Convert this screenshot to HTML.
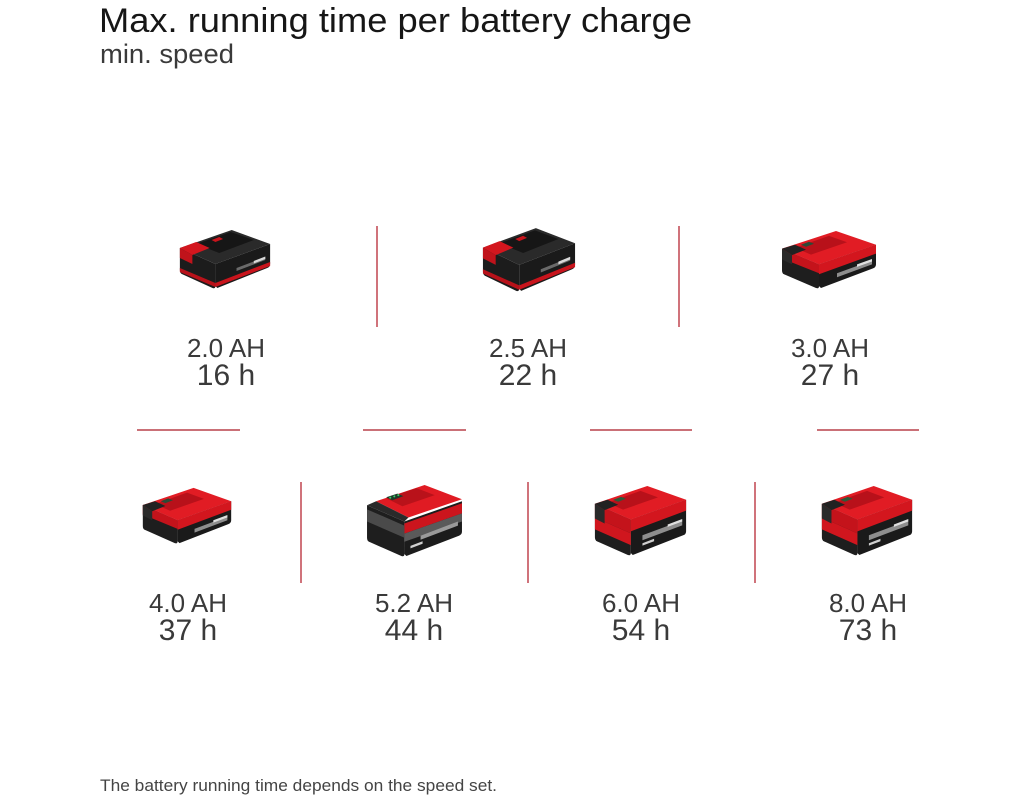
<!DOCTYPE html>
<html>
<head>
<meta charset="utf-8">
<style>
  html,body{margin:0;padding:0;background:#fff;}
  body{width:1024px;height:800px;overflow:hidden;}
  svg{display:block;}
  text{font-family:"Liberation Sans", Arial, sans-serif;}
</style>
</head>
<body>
<svg width="1024" height="800" viewBox="0 0 1024 800" xmlns="http://www.w3.org/2000/svg">
  <defs>
    <symbol id="R" viewBox="0 0 100 62" preserveAspectRatio="none">
      <path d="M3,20 L40,36 L40,58 Q40,61 37,60 L5,46 Q3,45 3,42 Z" fill="#1e1e1e"/>
      <path d="M40,36 L97,16 L97,36 Q97,39 94,40 L42,60 L40,58 Z" fill="#1a1a1a"/>
      <path d="M40,36 L97,16 L97,25 L40,46 Z" fill="#d3161e"/>
      <path d="M3,20 L40,36 L40,45 L3,30 Z" fill="#c4131b"/>
      <path d="M58,45 L93,32 L93,36 L58,49 Z" fill="#8e8e8e"/>
      <path d="M78,36 L93,30.5 L93,33 L78,38.5 Z" fill="#e0e0e0"/>
      <path d="M3,20 L57,2 L97,16 L40,36 Z" fill="#e11c24"/>
      <path d="M16,19 L50,7 L68,13.5 L32,26 Z" fill="#b8111a"/>
      <path d="M3,20 L16,16 L27,21 L13,26.5 Z" fill="#222"/>
      <path d="M3,20 L13,26.5 L13,36 L3,31 Z" fill="#2a2a2a"/>
      <path d="M22,16 L30,13 L35,15 L27,18 Z" fill="#2c4a36"/>
    </symbol>
    <symbol id="RT" viewBox="0 0 100 74" preserveAspectRatio="none">
      <path d="M3,20 L40,36 L40,70 Q40,73 37,72 L5,58 Q3,57 3,54 Z" fill="#1e1e1e"/>
      <path d="M40,36 L97,16 L97,48 Q97,51 94,52 L42,72 L40,70 Z" fill="#1a1a1a"/>
      <path d="M40,36 L97,16 L97,27 L40,48 Z" fill="#d3161e"/>
      <path d="M3,20 L40,36 L40,50 L3,34 Z" fill="#c4131b"/>
      <path d="M3,34 L40,50 L40,62 L3,46 Z" fill="#d0161e"/>
      <path d="M52,52 L93,37 L93,42 L52,57 Z" fill="#8e8e8e"/>
      <path d="M78,41 L93,35.5 L93,38 L78,43.5 Z" fill="#e0e0e0"/>
      <path d="M52,60 L64,55.5 L64,58 L52,62.5 Z" fill="#cfcfcf"/>
      <path d="M3,20 L57,2 L97,16 L40,36 Z" fill="#e11c24"/>
      <path d="M16,19 L50,7 L68,13.5 L32,26 Z" fill="#b8111a"/>
      <path d="M3,20 L16,16 L27,21 L13,26.5 Z" fill="#222"/>
      <path d="M3,20 L13,26.5 L13,40 L3,35 Z" fill="#2a2a2a"/>
      <path d="M22,16 L30,13 L35,15 L27,18 Z" fill="#2c5a3a"/>
    </symbol>
    <symbol id="P" viewBox="0 0 100 74" preserveAspectRatio="none">
      <path d="M3,22 L40,38 L40,70 Q40,73 37,72 L5,58 Q3,57 3,54 Z" fill="#1e1e1e"/>
      <path d="M40,38 L97,18 L97,48 Q97,51 94,52 L42,72 L40,70 Z" fill="#1c1c1c"/>
      <path d="M40,40 L97,20 L97,30 L40,50 Z" fill="#cc151d"/>
      <path d="M40,50 L97,30 L97,38 L40,58 Z" fill="#5a5a5a"/>
      <path d="M3,26 L40,42 L40,54 L3,38 Z" fill="#4a4a4a"/>
      <path d="M56,52 L93,38 L93,42 L56,56 Z" fill="#9a9a9a"/>
      <path d="M46,62 L58,57.5 L58,60 L46,64.5 Z" fill="#d0d0d0"/>
      <path d="M12,18 L60,2 L97,16 L44,34 Z" fill="#e01b23"/>
      <path d="M3,22 L12,18 L44,34 L40,38 Z" fill="#2a2a2a"/>
      <path d="M22,15 L52,5 L70,12 L38,23 Z" fill="#b9121a"/>
      <path d="M22,14 L33,10.5 L39,13 L28,17 Z" fill="#1f3a2a"/>
      <circle cx="26" cy="14.5" r="1" fill="#3ad06a"/>
      <circle cx="30" cy="13.2" r="1" fill="#3ad06a"/>
      <circle cx="34" cy="12" r="1" fill="#3ad06a"/>
    </symbol>
    <symbol id="B" viewBox="0 0 100 62" preserveAspectRatio="none">
      <path d="M3,20 L40,36 L40,58 Q40,61 37,60 L5,46 Q3,45 3,42 Z" fill="#1c1c1c"/>
      <path d="M40,36 L97,16 L97,36 Q97,39 94,40 L42,60 L40,58 Z" fill="#1a1a1a"/>
      <path d="M40,55 L97,34 L97,38 L40,59 Z" fill="#c8141c"/>
      <path d="M3,40 L40,55 L40,59 L3,44 Z" fill="#b8121a"/>
      <path d="M62,40 L92,29 L92,32 L62,43 Z" fill="#6a6a6a"/>
      <path d="M80,33 L92,28.5 L92,31 L80,35.5 Z" fill="#d9d9d9"/>
      <path d="M3,20 L57,2 L97,16 L40,36 Z" fill="#2a2a2a"/>
      <path d="M20,16 L56,4 L80,12 L44,25 Z" fill="#161616"/>
      <path d="M3,20 L20,14 L34,20 L16,27 Z" fill="#d3161e"/>
      <path d="M3,20 L16,27 L16,36 L3,30 Z" fill="#c0131b"/>
      <path d="M36,12 L44,9 L48,11 L40,14 Z" fill="#c8141c"/>
    </symbol>
  </defs>

  <text x="99" y="32" font-size="34" fill="#161616" textLength="593" lengthAdjust="spacingAndGlyphs">Max. running time per battery charge</text>
  <text x="100" y="63" font-size="27" fill="#3a3a3a" textLength="134" lengthAdjust="spacingAndGlyphs">min. speed</text>

  <use href="#B" x="177" y="228" width="96" height="62"/>
  <use href="#B" x="480" y="226" width="98" height="67"/>
  <use href="#R" x="779" y="229" width="100" height="61"/>

  <line x1="377" y1="226" x2="377" y2="327" stroke="#c4505a" stroke-width="1.6"/>
  <line x1="679" y1="226" x2="679" y2="327" stroke="#c4505a" stroke-width="1.6"/>

  <g fill="#3a3a3a" text-anchor="middle">
    <text x="226" y="357" font-size="26">2.0 AH</text>
    <text x="226" y="385" font-size="30">16 h</text>
    <text x="528" y="357" font-size="26">2.5 AH</text>
    <text x="528" y="385" font-size="30">22 h</text>
    <text x="830" y="357" font-size="26">3.0 AH</text>
    <text x="830" y="385" font-size="30">27 h</text>
  </g>

  <g stroke="#b8404a" stroke-width="1.6">
    <line x1="137" y1="430" x2="240" y2="430"/>
    <line x1="363" y1="430" x2="466" y2="430"/>
    <line x1="590" y1="430" x2="692" y2="430"/>
    <line x1="817" y1="430" x2="919" y2="430"/>
  </g>

  <use href="#R" x="140" y="486" width="94" height="59"/>
  <use href="#P" x="364" y="483" width="101" height="75"/>
  <use href="#RT" x="592" y="484" width="97" height="73"/>
  <use href="#RT" x="819" y="484" width="96" height="73"/>

  <g stroke="#c4505a" stroke-width="1.6">
    <line x1="301" y1="482" x2="301" y2="583"/>
    <line x1="528" y1="482" x2="528" y2="583"/>
    <line x1="755" y1="482" x2="755" y2="583"/>
  </g>

  <g fill="#3a3a3a" text-anchor="middle">
    <text x="188" y="612" font-size="26">4.0 AH</text>
    <text x="188" y="640" font-size="30">37 h</text>
    <text x="414" y="612" font-size="26">5.2 AH</text>
    <text x="414" y="640" font-size="30">44 h</text>
    <text x="641" y="612" font-size="26">6.0 AH</text>
    <text x="641" y="640" font-size="30">54 h</text>
    <text x="868" y="612" font-size="26">8.0 AH</text>
    <text x="868" y="640" font-size="30">73 h</text>
  </g>

  <text x="100" y="791" font-size="17" fill="#444" textLength="397" lengthAdjust="spacingAndGlyphs">The battery running time depends on the speed set.</text>
</svg>
</body>
</html>
